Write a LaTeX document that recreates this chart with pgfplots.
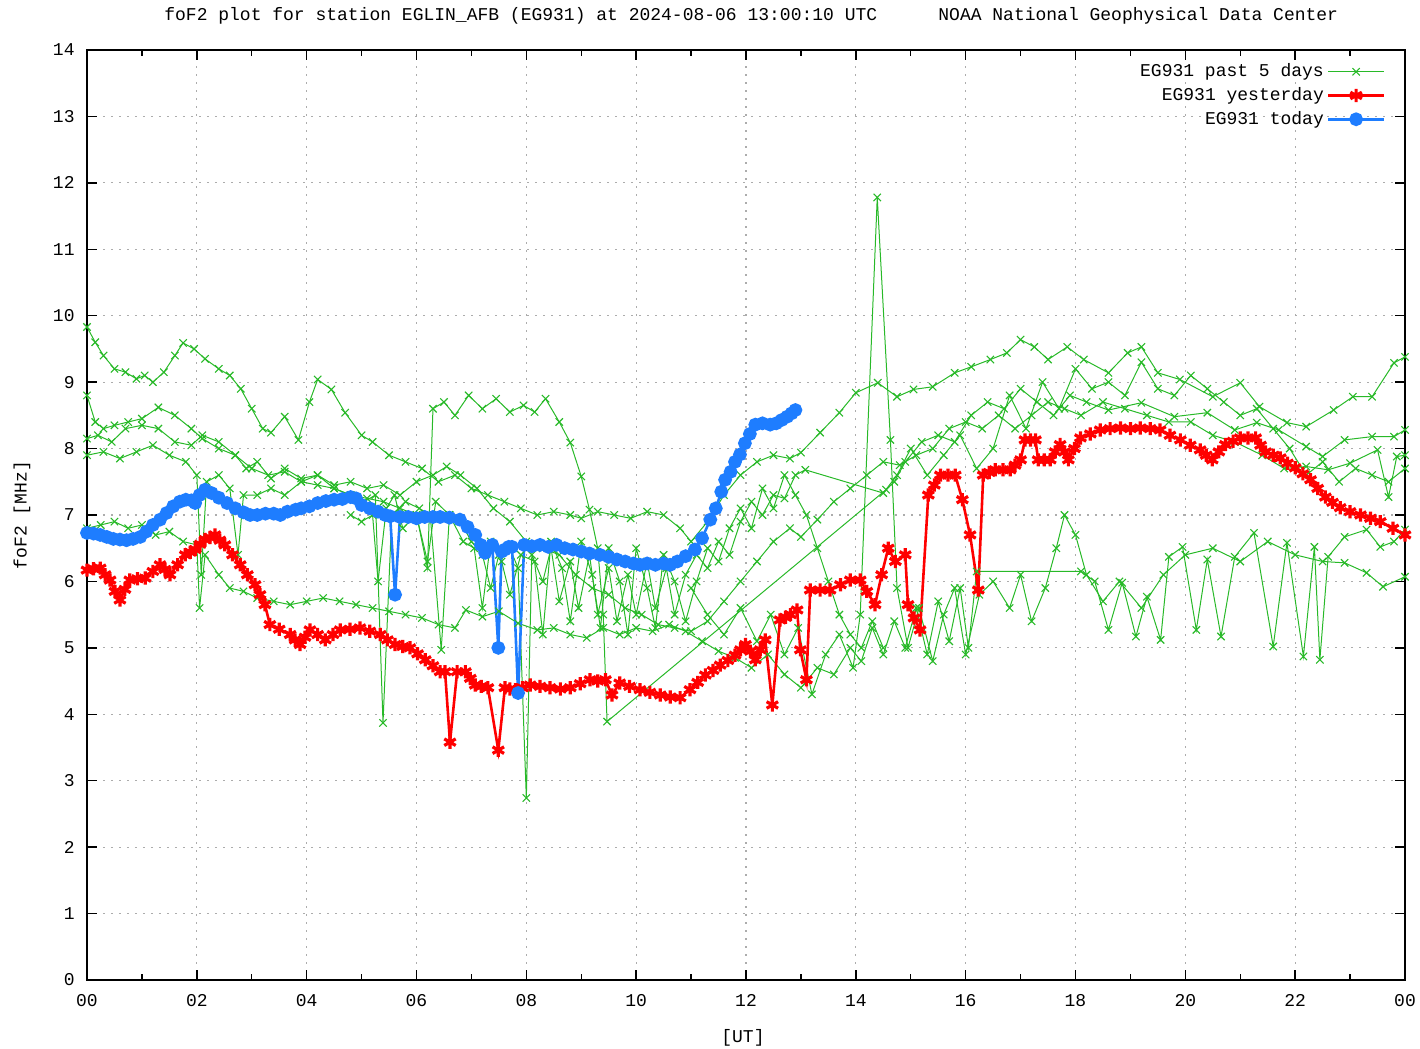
\documentclass[border=0pt]{standalone}
\usepackage{fontspec}
\setmainfont{Liberation Mono}
\usepackage{pgfplots}
\pgfplotsset{compat=1.18}

\definecolor{pastgreen}{RGB}{40,185,40}
\definecolor{yred}{RGB}{255,0,0}
\definecolor{tblue}{RGB}{30,125,255}

\pgfplotsset{pastday/.style={pastgreen, line width=0.5pt, mark=x, mark size=2.6pt, mark options={line width=0.55pt}}}

\begin{document}
\fontsize{9}{10.5}\selectfont
\begin{tikzpicture}
\useasboundingbox (-43.5pt,-34.5pt) rectangle (666.5pt,490pt);
\begin{axis}[
  at={(0pt,0pt)}, anchor=south west,
  width=659pt, height=465pt, scale only axis,
  xmin=0, xmax=24, ymin=0, ymax=14,
  xtick={0,2,...,24},
  xticklabels={00,02,04,06,08,10,12,14,16,18,20,22,00},
  minor xtick={1,3,...,23},
  ytick={0,1,...,14},
  grid=major,
  major grid style={gray!65, line width=0.6pt, dash pattern=on 1pt off 3pt},
  major tick length=5pt, minor tick length=3pt,
  tick style={black, line width=0.7pt},
  axis line style={black, line width=0.9pt},
  /pgf/number format/assume math mode=true,
  xticklabel style={yshift=-4pt},
  yticklabel style={xshift=-3pt},
  xlabel={[UT]}, ylabel={foF2 [MHz]},
  every axis x label/.style={at={(axis description cs:0.4977,0)}, yshift=-29pt, anchor=center},
  every axis y label/.style={at={(axis description cs:0,0.5)}, xshift=-32.5pt, rotate=90, anchor=center},
  legend plot pos=right,
  legend cell align=right,
  legend style={at={(rel axis cs:0.99,0.993)}, anchor=north east, draw=none, fill=none,
    row sep=1pt, nodes={inner sep=1.5pt}},
  legend image code/.code={\draw[mark repeat=2,mark phase=2,#1] plot coordinates {(0pt,0pt) (14pt,0pt) (28pt,0pt)};},
]

% past 5 days (one line per day, plus gap-separated pieces)
\addplot[pastday] coordinates {
(0,9.83) (0.15,9.6) (0.3,9.4) (0.5,9.2) (0.7,9.15) (0.9,9.05) (1.05,9.1) (1.2,9.0) (1.4,9.15) (1.6,9.4) (1.75,9.59) (1.95,9.5) (2.15,9.35) (2.4,9.2) (2.6,9.1) (2.8,8.9) (3.0,8.6) (3.2,8.3) (3.35,8.24) (3.6,8.48) (3.85,8.13) (4.05,8.7) (4.2,9.04) (4.45,8.89) (4.7,8.54) (5.0,8.2) (5.2,8.1) (5.5,7.9) (5.8,7.8) (6.1,7.7) (6.4,7.5) (6.7,7.6) (7.0,7.4) (7.3,7.3) (7.6,7.2) (7.9,7.1) (8.2,7.0) (8.5,7.05) (8.8,7.0) (9.0,6.95) (9.3,7.05) (9.6,7.0) (9.9,6.95) (10.2,7.05) (10.5,7.0) (10.8,6.8) (11.0,6.6) (11.3,6.9) (11.6,7.3) (11.9,7.6) (12.2,7.8) (12.5,7.9) (12.8,7.85) (13.0,7.94) (13.35,8.24) (13.7,8.54) (14.0,8.84) (14.4,8.99) (14.75,8.78) (15.05,8.89) (15.4,8.93) (15.8,9.14) (16.1,9.23) (16.45,9.34) (16.75,9.44) (17.0,9.64) (17.25,9.53) (17.5,9.34) (17.85,9.53) (18.15,9.34) (18.6,9.14) (18.95,9.44) (19.2,9.53) (19.5,9.14) (19.9,9.04) (20.5,8.78) (21.0,8.99) (21.35,8.63) (21.85,8.39) (22.2,8.33) (22.7,8.58) (23.05,8.78) (23.4,8.78) (23.8,9.29) (24.0,9.38)
};
\addlegendentry{EG931 past 5 days}
\addplot[pastday, forget plot] coordinates {
(0,8.8) (0.15,8.4) (0.3,8.3) (0.5,8.35) (0.75,8.4) (1.0,8.45) (1.3,8.62) (1.6,8.5) (1.9,8.3) (2.1,8.15) (2.4,8.0) (2.7,7.9) (3.0,7.7) (3.3,7.6) (3.6,7.65) (3.9,7.5) (4.2,7.45) (4.5,7.4) (4.8,7.3) (5.1,7.25) (5.4,7.2) (5.7,7.1) (6.0,7.0) (6.2,6.2) (6.3,8.6) (6.5,8.7) (6.7,8.5) (6.95,8.8) (7.2,8.6) (7.45,8.75) (7.7,8.55) (7.95,8.65) (8.15,8.55) (8.35,8.75) (8.6,8.4) (8.8,8.09) (9.0,7.58) (9.15,7.08) (9.3,6.5) (9.4,5.5) (9.47,3.89) (14.55,7.38) (14.7,7.5) (14.9,7.8) (15.2,8.1) (15.5,8.2) (15.8,8.1) (16.1,8.5) (16.4,8.7) (16.7,8.6) (17.0,8.9) (17.3,8.7) (17.6,8.5) (17.9,8.8) (18.2,8.7) (18.6,8.58) (19.2,8.69) (19.8,8.48) (20.4,8.54) (20.9,8.28) (21.3,8.39) (21.7,8.28) (22.2,8.03) (22.5,7.88) (22.9,8.13) (23.4,8.18) (23.8,8.18) (24.0,8.28)
};
\addplot[pastday, forget plot] coordinates {
(0,8.15) (0.2,8.2) (0.45,8.1) (0.7,8.3) (1.0,8.35) (1.3,8.3) (1.6,8.1) (1.9,8.05) (2.1,8.2) (2.4,8.1) (2.7,7.9) (2.9,7.7) (3.1,7.8) (3.35,7.55) (3.6,7.7) (3.9,7.55) (4.2,7.6) (4.5,7.45) (4.8,7.5) (5.1,7.4) (5.4,7.45) (5.7,7.3) (6.0,7.5) (6.3,7.6) (6.55,7.73) (6.8,7.6) (7.1,7.4) (7.4,7.1) (7.7,6.9) (8.0,6.6) (8.3,6.5) (8.6,6.4) (8.9,6.1) (9.2,5.9) (9.5,5.8) (9.8,5.6) (10.1,5.5) (10.4,5.35) (10.7,5.3) (11.0,5.25) (11.3,5.4) (11.6,5.7) (11.9,6.0) (12.2,6.3) (12.5,6.6) (12.8,6.8) (13.0,6.67) (13.3,6.93) (13.6,7.2) (13.9,7.4) (14.2,7.6) (14.5,7.8) (14.8,7.75) (15.1,7.9) (15.4,8.0) (15.7,8.3) (16.0,8.4) (16.3,8.3) (16.6,8.5) (16.9,8.3) (17.2,8.5) (17.5,8.7) (17.8,8.6) (18.1,8.5) (18.5,8.7) (18.9,8.6) (19.3,8.5) (19.7,8.4) (20.1,8.4) (20.5,8.2) (20.9,8.1) (21.4,7.9) (21.8,7.7) (22.2,7.73) (22.6,7.68) (23.0,7.78) (23.5,7.98) (23.7,7.27) (23.85,7.88) (24.0,7.9)
};
\addplot[pastday, forget plot] coordinates {
(0,6.8) (0.25,6.85) (0.5,6.9) (0.75,6.8) (1.0,6.85) (1.25,6.7) (1.5,6.75) (1.75,6.6) (2.0,6.55) (2.05,5.6) (2.15,6.4) (2.4,6.1) (2.6,5.9) (2.85,5.85) (3.1,5.75) (3.4,5.7) (3.7,5.65) (4.0,5.7) (4.3,5.75) (4.6,5.7) (4.9,5.65) (5.2,5.6) (5.5,5.55) (5.8,5.5) (6.1,5.45) (6.4,5.35) (6.7,5.3) (6.9,5.57) (7.2,5.47) (7.5,5.55) (7.85,5.37) (8.2,5.27) (8.5,5.3) (8.8,5.2) (9.1,5.15) (9.4,5.3) (9.7,5.2) (10.0,5.3) (10.3,5.25) (10.6,5.35) (10.9,5.25) (11.2,5.1) (11.5,4.95) (11.8,4.85) (12.1,4.7) (12.4,4.9) (12.7,4.6) (13.0,4.4) (13.3,4.7) (13.6,4.6) (13.9,5.0) (14.1,4.8) (14.3,5.3) (14.5,4.9) (14.7,5.4) (14.9,5.0) (15.1,5.6) (15.3,4.9) (15.5,5.7) (15.7,5.1) (15.9,5.9) (16.05,5.0) (16.2,6.15) (18.1,6.15) (18.35,6.0) (18.6,5.27) (18.85,5.98) (19.1,5.17) (19.3,5.77) (19.55,5.12) (19.7,6.37) (19.95,6.52) (20.2,5.27) (20.4,6.33) (20.65,5.17) (20.9,6.37) (21.25,6.73) (21.6,5.02) (21.85,6.58) (22.15,4.87) (22.35,6.52) (22.45,4.82) (22.6,6.37) (22.9,6.67) (23.3,6.78) (23.55,6.52) (23.8,6.6) (24.0,6.78)
};
\addplot[pastday, forget plot] coordinates {
(0,7.9) (0.3,7.95) (0.6,7.85) (0.9,7.95) (1.2,8.05) (1.5,7.9) (1.8,7.8) (2.0,7.6) (2.08,6.1) (2.18,7.5) (2.4,7.6) (2.6,7.4) (2.75,6.4) (2.85,7.3) (3.1,7.3) (3.35,7.4) (3.6,7.3) (3.9,7.5) (4.2,7.6) (4.5,7.4) (4.8,7.3) (5.05,7.2) (5.25,7.3) (5.39,3.87) (5.55,7.0) (5.8,7.2) (6.05,7.1) (6.25,7.0) (6.45,4.97) (6.6,7.0) (6.8,6.9) (7.0,6.6) (7.2,6.4) (7.35,5.9) (7.5,6.4) (7.7,6.5) (7.85,6.2) (8.0,2.74) (8.1,6.4) (8.3,6.0) (8.45,6.5) (8.6,5.7) (8.8,6.3) (8.95,5.6) (9.15,6.4) (9.3,5.5) (9.5,6.2) (9.65,5.4) (9.85,6.1) (10.0,5.5) (10.2,6.3) (10.35,5.6) (10.55,6.2) (10.7,5.5) (10.9,6.1) (11.1,6.4) (11.3,6.2) (11.5,6.6) (11.7,6.4) (11.9,6.9) (12.1,7.2) (12.3,7.0) (12.5,7.3) (12.7,7.25) (12.9,7.6) (13.08,7.68) (14.5,7.33) (14.75,7.6) (15.0,8.0) (15.3,7.6) (15.6,7.9) (15.9,8.2) (16.2,7.7) (16.5,8.0) (16.8,8.8) (17.1,8.3) (17.4,9.0) (17.7,8.6) (18.0,9.2) (18.3,8.9) (18.6,9.0) (18.9,8.8) (19.2,9.3) (19.5,8.9) (19.8,8.8) (20.1,9.1) (20.4,8.9) (20.7,8.7) (21.0,8.5) (21.3,8.6) (21.6,8.3) (21.9,8.0) (22.2,7.6) (22.5,7.8) (22.8,7.5) (23.1,7.7) (23.4,7.6) (23.7,7.5) (24.0,7.7)
};
\addplot[pastday, forget plot] coordinates {
(11.0,5.9) (11.3,5.5) (11.6,5.2) (11.9,5.6) (12.2,5.1) (12.45,5.5) (12.7,4.9) (12.95,5.3) (13.2,4.3) (13.45,4.9) (13.7,5.2) (13.95,4.7) (14.08,5.5) (14.39,11.78) (14.63,8.13) (14.75,5.9) (14.95,5.0) (15.15,5.6) (15.4,4.8) (15.6,5.5) (15.8,5.9) (16.0,4.9) (16.25,5.8) (16.5,6.0) (16.8,5.6) (17.0,6.1) (17.2,5.4) (17.45,5.9) (17.65,6.5) (17.8,7.0) (18.0,6.7) (18.2,6.1) (18.5,5.7) (18.8,6.0) (19.2,5.6) (19.6,6.1) (20.0,6.4) (20.5,6.5) (21.0,6.3) (21.5,6.6) (22.0,6.4) (22.5,6.3) (22.9,6.28) (23.3,6.13) (23.6,5.92) (24.0,6.07)
};
\addplot[pastday, forget plot] coordinates {
(4.8,7.0) (5.0,6.9) (5.2,7.0) (5.3,6.0) (5.45,7.1) (5.6,7.3) (5.75,6.8) (6.0,7.0) (6.2,6.3) (6.35,7.2) (6.6,7.0) (6.85,6.6) (7.05,6.5) (7.2,5.6) (7.35,6.6) (7.55,6.3) (7.7,5.8) (7.9,6.4) (8.15,6.3) (8.3,5.2) (8.45,6.6) (8.65,6.2) (8.8,5.4) (9.0,6.6) (9.2,6.1) (9.35,5.3) (9.5,6.5) (9.7,6.0) (9.85,5.2) (10.0,6.5) (10.2,5.9) (10.35,5.3) (10.5,6.4) (10.7,6.0) (10.9,5.4) (11.1,6.0) (11.3,6.5) (11.5,6.3) (11.7,6.8) (11.9,7.1) (12.1,6.8) (12.3,7.4) (12.5,7.1) (12.7,7.6) (12.9,7.3) (13.1,7.0) (13.3,6.5) (13.5,6.0) (13.7,5.5) (13.9,5.2) (14.1,5.0) (14.3,5.4) (14.5,5.0)
};

% yesterday
\addplot[yred, line width=1.3pt, mark=asterisk, mark size=3.3pt, mark options={line width=1.6pt}] coordinates {
(0,6.17) (0.12,6.19) (0.24,6.2) (0.33,6.1) (0.42,6.02) (0.51,5.85) (0.6,5.72) (0.69,5.88) (0.78,6.02) (0.92,6.04) (1.06,6.05) (1.2,6.15) (1.33,6.25) (1.42,6.18) (1.51,6.1) (1.65,6.25) (1.79,6.4) (1.88,6.44) (1.97,6.48) (2.06,6.56) (2.15,6.63) (2.24,6.66) (2.33,6.7) (2.42,6.62) (2.51,6.55) (2.65,6.4) (2.79,6.25) (2.92,6.1) (3.06,5.95) (3.15,5.8) (3.24,5.65) (3.33,5.35) (3.5,5.28) (3.7,5.2) (3.79,5.12) (3.88,5.05) (3.97,5.16) (4.06,5.27) (4.2,5.2) (4.34,5.12) (4.48,5.2) (4.61,5.27) (4.79,5.28) (4.97,5.3) (5.15,5.25) (5.34,5.2) (5.47,5.12) (5.61,5.05) (5.75,5.02) (5.88,5.0) (6.02,4.91) (6.16,4.82) (6.3,4.73) (6.43,4.64) (6.52,4.64) (6.61,3.58) (6.74,4.64) (6.89,4.64) (6.98,4.54) (7.07,4.44) (7.18,4.42) (7.3,4.4) (7.49,3.46) (7.61,4.4) (7.7,4.38) (7.8,4.37) (7.93,4.4) (8.07,4.44) (8.25,4.42) (8.43,4.4) (8.62,4.38) (8.8,4.4) (8.98,4.46) (9.16,4.52) (9.3,4.5) (9.44,4.52) (9.56,4.29) (9.7,4.47) (9.88,4.42) (10.07,4.37) (10.25,4.33) (10.44,4.29) (10.62,4.26) (10.8,4.25) (10.98,4.37) (11.12,4.48) (11.26,4.59) (11.4,4.66) (11.53,4.74) (11.67,4.81) (11.8,4.89) (11.9,4.97) (11.99,5.05) (12.08,4.95) (12.17,4.82) (12.26,4.97) (12.35,5.12) (12.48,4.14) (12.62,5.42) (12.72,5.46) (12.81,5.5) (12.93,5.57) (12.99,4.97) (13.1,4.52) (13.17,5.87) (13.35,5.87) (13.53,5.87) (13.72,5.95) (13.9,6.02) (14.08,6.02) (14.2,5.85) (14.35,5.65) (14.47,6.1) (14.59,6.5) (14.72,6.3) (14.9,6.4) (14.95,5.65) (15.06,5.45) (15.17,5.27) (15.32,7.3) (15.43,7.45) (15.54,7.6) (15.68,7.6) (15.81,7.6) (15.94,7.23) (16.08,6.7) (16.23,5.87) (16.32,7.6) (16.43,7.64) (16.54,7.68) (16.68,7.68) (16.81,7.68) (16.9,7.75) (17.0,7.83) (17.08,8.13) (17.18,8.13) (17.27,8.13) (17.32,7.83) (17.43,7.83) (17.54,7.83) (17.63,7.95) (17.72,8.06) (17.8,7.95) (17.87,7.83) (17.98,8.0) (18.09,8.16) (18.27,8.22) (18.45,8.28) (18.63,8.3) (18.82,8.31) (19.0,8.3) (19.18,8.31) (19.36,8.3) (19.54,8.28) (19.72,8.2) (19.91,8.13) (20.09,8.05) (20.27,7.98) (20.38,7.9) (20.49,7.83) (20.61,7.95) (20.73,8.06) (20.87,8.11) (21.0,8.16) (21.14,8.16) (21.28,8.16) (21.37,8.05) (21.46,7.95) (21.6,7.9) (21.73,7.86) (21.86,7.78) (22.0,7.71) (22.14,7.62) (22.28,7.53) (22.41,7.4) (22.55,7.27) (22.68,7.19) (22.82,7.11) (23.0,7.05) (23.19,7.0) (23.37,6.95) (23.55,6.9) (23.78,6.8) (24.0,6.7)
};
\addlegendentry{EG931 yesterday}

% today
\addplot[tblue, line width=1.3pt, mark=*, mark size=2.8pt] coordinates {
(0.00,6.73) (0.12,6.72) (0.24,6.70) (0.36,6.67) (0.48,6.64) (0.60,6.63) (0.72,6.62) (0.84,6.64) (0.97,6.67) (1.08,6.75) (1.20,6.85) (1.33,6.93) (1.45,7.03) (1.57,7.13) (1.69,7.20) (1.80,7.23) (1.90,7.22) (1.97,7.18) (2.05,7.30) (2.15,7.38) (2.27,7.33) (2.40,7.26) (2.55,7.18) (2.70,7.10) (2.85,7.04) (2.97,7.00) (3.10,7.00) (3.25,7.02) (3.40,7.02) (3.52,7.00) (3.65,7.05) (3.80,7.08) (3.90,7.10) (4.05,7.13) (4.20,7.18) (4.35,7.21) (4.50,7.23) (4.65,7.24) (4.80,7.27) (4.90,7.25) (5.00,7.15) (5.15,7.10) (5.30,7.05) (5.43,7.00) (5.52,6.98) (5.61,5.80) (5.70,6.97) (5.85,6.97) (6.00,6.95) (6.15,6.97) (6.30,6.97) (6.43,6.97) (6.60,6.96) (6.79,6.93) (6.93,6.82) (7.07,6.70) (7.17,6.55) (7.25,6.43) (7.32,6.50) (7.38,6.55) (7.49,5.00) (7.55,6.45) (7.61,6.48) (7.68,6.52) (7.74,6.52) (7.85,4.32) (7.96,6.55) (8.10,6.53) (8.25,6.55) (8.40,6.52) (8.55,6.55) (8.70,6.50) (8.85,6.48) (9.00,6.45) (9.15,6.42) (9.34,6.40) (9.50,6.37) (9.65,6.33) (9.80,6.30) (9.95,6.27) (10.07,6.25) (10.20,6.27) (10.35,6.25) (10.50,6.27) (10.62,6.25) (10.75,6.30) (10.90,6.38) (11.07,6.48) (11.20,6.65) (11.35,6.93) (11.45,7.10) (11.55,7.35) (11.62,7.53) (11.72,7.65) (11.80,7.80) (11.89,7.91) (11.98,8.08) (12.07,8.22) (12.17,8.36) (12.30,8.38) (12.44,8.36) (12.55,8.38) (12.65,8.43) (12.75,8.48) (12.83,8.53) (12.90,8.58)
};
\addlegendentry{EG931 today}
\end{axis}
\node[anchor=west] at (35.5pt,482pt) {foF2 plot for station EGLIN\_AFB (EG931) at 2024-08-06 13:00:10 UTC};
\node[anchor=west] at (422.5pt,482pt) {NOAA National Geophysical Data Center};
\end{tikzpicture}
\end{document}
